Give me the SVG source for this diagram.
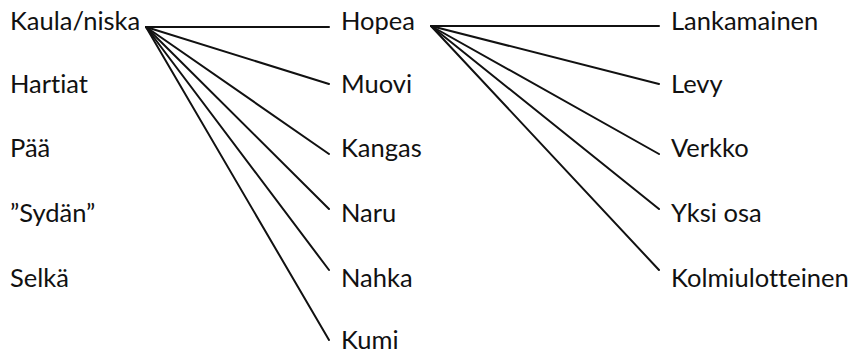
<svg xmlns="http://www.w3.org/2000/svg" width="860" height="353" viewBox="0 0 860 353">
<style>
text{font-family:Lato,"Open Sans",sans-serif;font-size:25.5px;fill:#111;font-variant-ligatures:none}
.c line{stroke:#111;stroke-width:2;stroke-linecap:round}
</style>
<rect width="860" height="353" fill="#fff"/>
<g class="c" id="connectors">
<line x1="146" y1="27" x2="329" y2="27"/>
<line x1="146" y1="27" x2="329" y2="84"/>
<line x1="146" y1="27" x2="329" y2="154"/>
<line x1="146" y1="27" x2="329" y2="209"/>
<line x1="146" y1="27" x2="329" y2="270"/>
<line x1="146" y1="27" x2="329" y2="340"/>
<line x1="431" y1="26" x2="659" y2="26"/>
<line x1="431" y1="26" x2="659" y2="84"/>
<line x1="431" y1="26" x2="659" y2="154"/>
<line x1="431" y1="26" x2="659" y2="209"/>
<line x1="431" y1="26" x2="659" y2="270"/>
</g>
<g id="kaula"><text x="10" y="30">Kaula/niska</text></g>
<g id="hartiat"><text x="10" y="93">Hartiat</text></g>
<g id="paa"><text x="10" y="157">Pää</text></g>
<g id="sydan"><text x="10" y="222">”Sydän”</text></g>
<g id="selka"><text x="10" y="287">Selkä</text></g>
<g id="hopea"><text x="341" y="30">Hopea</text></g>
<g id="muovi"><text x="341" y="93">Muovi</text></g>
<g id="kangas"><text x="341" y="157">Kangas</text></g>
<g id="naru"><text x="341" y="222">Naru</text></g>
<g id="nahka"><text x="341" y="287">Nahka</text></g>
<g id="kumi"><text x="341" y="349">Kumi</text></g>
<g id="lankamainen"><text x="671" y="30">Lankamainen</text></g>
<g id="levy"><text x="671" y="93">Levy</text></g>
<g id="verkko"><text x="671" y="157">Verkko</text></g>
<g id="yksi"><text x="671" y="222">Yksi osa</text></g>
<g id="kolmi"><text x="671" y="287">Kolmiulotteinen</text></g>
</svg>
